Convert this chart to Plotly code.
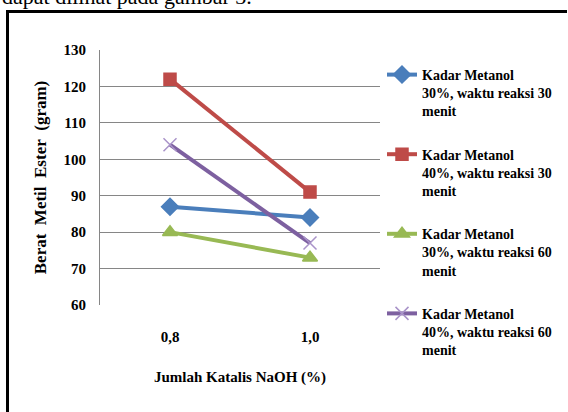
import plotly.graph_objects as go

categories = ["0,8", "1,0"]
series_names = [
    "Kadar Metanol<br>30%, waktu reaksi 30<br>menit",
    "Kadar Metanol<br>40%, waktu reaksi 30<br>menit",
    "Kadar Metanol<br>30%, waktu reaksi 60<br>menit",
    "Kadar Metanol<br>40%, waktu reaksi 60<br>menit",
]
s1 = [87, 84]
s2 = [122, 91]
s3 = [80, 73]
s4 = [104, 77]
y_ticks = [60, 70, 80, 90, 100, 110, 120, 130]

W, H = 568, 412
L, R, T, B = 100, 188, 50, 107
PW, PH = W - L - R, H - T - B

def px(x):
    return (x - L) / PW

def py(y):
    return (H - B - y) / PH

FONT = "Liberation Serif, Times New Roman, serif"
styles = [
    dict(color="#4A7EBB", symbol="diamond", size=13, lc="#4A7EBB"),
    dict(color="#BE4B48", symbol="square", size=12, lc="#BE4B48"),
    dict(color="#98B954", symbol="triangle-up", size=13, lc="#98B954"),
    dict(color="#7D60A0", symbol="x-thin", size=13, lc="#A993C9"),
]

fig = go.Figure()
for name, vals, st in zip(series_names, [s1, s2, s3, s4], styles):
    fig.add_trace(go.Scatter(
        x=categories, y=vals, name=name, mode="lines+markers",
        legendgroup=name,
        line=dict(color=st["color"], width=4),
        marker=dict(symbol=st["symbol"], size=st["size"], color=st["color"],
                    line=dict(color=st["lc"], width=1.5)),
    ))

fig.update_layout(
    width=W, height=H,
    margin=dict(l=L, r=R, t=T, b=B, autoexpand=False),
    paper_bgcolor="white", plot_bgcolor="white",
    font=dict(family=FONT, size=15, color="black"),
    showlegend=True,
    legend=dict(
        x=px(382), y=py(59), xanchor="left", yanchor="top",
        font=dict(family=FONT, size=14, color="black", weight="bold"),
        tracegroupgap=22, itemwidth=30, bgcolor="rgba(0,0,0,0)",
        valign="top", maxheight=400,
    ),
    xaxis=dict(
        type="category", range=[-0.5, 1.5], showgrid=False, zeroline=False,
        showline=False, ticks="outside", ticklen=18, tickcolor="rgba(0,0,0,0)",
        tickfont=dict(family=FONT, size=15, weight="bold"),
        title=dict(text="Jumlah Katalis NaOH (%)", standoff=27,
                   font=dict(family=FONT, size=15, weight="bold")),
    ),
    yaxis=dict(
        range=[60, 130], tickvals=y_ticks, showgrid=True, gridcolor="#868686",
        gridwidth=1, zeroline=False, showline=True, linecolor="#868686",
        linewidth=1, ticks="outside", ticklen=10, tickcolor="rgba(0,0,0,0)",
        tickfont=dict(family=FONT, size=15, weight="bold"),
        title=dict(text="Berat&nbsp; Metil&nbsp; Ester&nbsp; (gram)", standoff=12,
                   font=dict(family=FONT, size=17, weight="bold")),
    ),
    shapes=[
        dict(type="line", xref="paper", yref="paper", x0=px(6), x1=px(567),
             y0=py(11.5), y1=py(11.5), line=dict(color="black", width=3)),
        dict(type="line", xref="paper", yref="paper", x0=px(7.5), x1=px(7.5),
             y0=py(10), y1=py(415), line=dict(color="black", width=3)),
    ],
    annotations=[
        dict(text="dapat dilihat pada gambar 3.", xref="paper", yref="paper",
             x=px(0), y=py(11), xanchor="left", yanchor="bottom", showarrow=False,
             font=dict(family=FONT, size=22, color="black")),
    ],
)

fig.write_html("out.html", config={"displayModeBar": False},
               post_script="document.body.style.margin='0';")
